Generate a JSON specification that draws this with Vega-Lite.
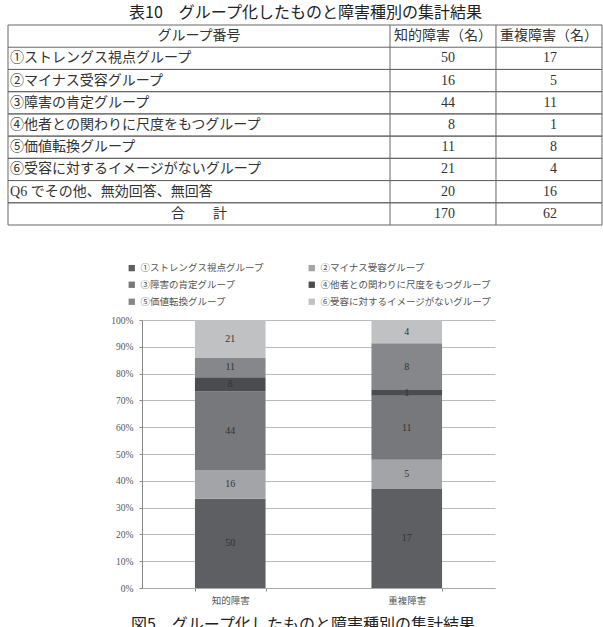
{
  "$schema": "https://vega.github.io/schema/vega-lite/v6.json",
  "padding": {"left": 7, "top": 4, "right": 2, "bottom": 0},
  "background": "white",
  "config": {
    "view": {"stroke": null},
    "font": "Liberation Serif, Noto Sans CJK JP"
  },
  "datasets": {
    "header": [{"no": 0, "c1": "グループ番号", "c2": "知的障害（名）", "c3": "重複障害（名）"}],
    "rows": [
      {"no": 1, "group": "①ストレングス視点グループ", "知的障害": 50, "重複障害": 17},
      {"no": 2, "group": "②マイナス受容グループ", "知的障害": 16, "重複障害": 5},
      {"no": 3, "group": "③障害の肯定グループ", "知的障害": 44, "重複障害": 11},
      {"no": 4, "group": "④他者との関わりに尺度をもつグループ", "知的障害": 8, "重複障害": 1},
      {"no": 5, "group": "⑤価値転換グループ", "知的障害": 11, "重複障害": 8},
      {"no": 6, "group": "⑥受容に対するイメージがないグループ", "知的障害": 21, "重複障害": 4},
      {"no": 7, "group": "Q6 でその他、無効回答、無回答", "知的障害": 20, "重複障害": 16},
      {"no": 8, "group": "合　　計", "知的障害": 170, "重複障害": 62}
    ],
    "chart": [
      {"type": "知的障害", "group": "①ストレングス視点グループ", "count": 50},
      {"type": "知的障害", "group": "②マイナス受容グループ", "count": 16},
      {"type": "知的障害", "group": "③障害の肯定グループ", "count": 44},
      {"type": "知的障害", "group": "④他者との関わりに尺度をもつグループ", "count": 8},
      {"type": "知的障害", "group": "⑤価値転換グループ", "count": 11},
      {"type": "知的障害", "group": "⑥受容に対するイメージがないグループ", "count": 21},
      {"type": "重複障害", "group": "①ストレングス視点グループ", "count": 17},
      {"type": "重複障害", "group": "②マイナス受容グループ", "count": 5},
      {"type": "重複障害", "group": "③障害の肯定グループ", "count": 11},
      {"type": "重複障害", "group": "④他者との関わりに尺度をもつグループ", "count": 1},
      {"type": "重複障害", "group": "⑤価値転換グループ", "count": 8},
      {"type": "重複障害", "group": "⑥受容に対するイメージがないグループ", "count": 4}
    ]
  },
  "resolve": {"legend": {"color": "independent"}, "scale": {"color": "independent"}},
  "vconcat": [
    {
      "title": {"text": "表10　グループ化したものと障害種別の集計結果", "fontSize": 16, "font": "Noto Sans CJK JP", "fontWeight": "normal", "color": "#222", "anchor": "middle", "offset": 4, "dx": -13},
      "width": 621, "height": 200,
      "layer": [
        {
          "encoding": {"y": {"field": "no", "type": "ordinal", "scale": {"type": "band", "domain": [0,1,2,3,4,5,6,7,8], "paddingInner": 0, "paddingOuter": 0}, "axis": null}},
          "layer": [
            {"data": {"name": "header"}, "mark": {"type": "text", "fontSize": 14, "color": "#333", "align": "center", "baseline": "middle", "font": "Noto Sans CJK JP"}, "encoding": {"x": {"datum": 0.3215, "type": "quantitative", "scale": {"domain": [0, 1.04545]}, "axis": null}, "text": {"field": "c1"}}},
            {"data": {"name": "header"}, "mark": {"type": "text", "fontSize": 14, "color": "#333", "align": "center", "baseline": "middle", "font": "Noto Sans CJK JP"}, "encoding": {"x": {"datum": 0.7323, "type": "quantitative", "scale": {"domain": [0, 1.04545]}, "axis": null}, "text": {"field": "c2"}}},
            {"data": {"name": "header"}, "mark": {"type": "text", "fontSize": 14, "color": "#333", "align": "center", "baseline": "middle", "font": "Noto Sans CJK JP"}, "encoding": {"x": {"datum": 0.9108, "type": "quantitative", "scale": {"domain": [0, 1.04545]}, "axis": null}, "text": {"field": "c3"}}},
            {"data": {"name": "rows"}, "transform": [{"filter": "datum.no < 8"}], "mark": {"type": "text", "fontSize": 14, "color": "#333", "align": "left", "baseline": "middle"}, "encoding": {"x": {"datum": 0.0034, "type": "quantitative", "scale": {"domain": [0, 1.04545]}, "axis": null}, "text": {"field": "group"}}},
            {"data": {"name": "rows"}, "transform": [{"filter": "datum.no == 8"}], "mark": {"type": "text", "fontSize": 14, "color": "#333", "align": "center", "baseline": "middle", "font": "Noto Sans CJK JP"}, "encoding": {"x": {"datum": 0.3215, "type": "quantitative", "scale": {"domain": [0, 1.04545]}, "axis": null}, "text": {"field": "group"}}},
            {"data": {"name": "rows"}, "mark": {"type": "text", "fontSize": 14, "color": "#333", "align": "right", "baseline": "middle"}, "encoding": {"x": {"datum": 0.7525, "type": "quantitative", "scale": {"domain": [0, 1.04545]}, "axis": null}, "text": {"field": "知的障害"}}},
            {"data": {"name": "rows"}, "mark": {"type": "text", "fontSize": 14, "color": "#333", "align": "right", "baseline": "middle"}, "encoding": {"x": {"datum": 0.9242, "type": "quantitative", "scale": {"domain": [0, 1.04545]}, "axis": null}, "text": {"field": "重複障害"}}},
            {"data": {"name": "header"}, "mark": {"type": "rule", "color": "#666", "strokeWidth": 1}, "encoding": {"y": {"field": "no", "type": "ordinal", "bandPosition": 0, "axis": null}, "x": {"datum": 0, "type": "quantitative", "scale": {"domain": [0, 1.04545]}, "axis": null}, "x2": {"datum": 1}}},
            {"data": {"name": "rows"}, "mark": {"type": "rule", "color": "#666", "strokeWidth": 1}, "encoding": {"y": {"field": "no", "type": "ordinal", "bandPosition": 0, "axis": null}, "x": {"datum": 0, "type": "quantitative", "scale": {"domain": [0, 1.04545]}, "axis": null}, "x2": {"datum": 1}}},
            {"data": {"name": "rows"}, "mark": {"type": "rule", "color": "#666", "strokeWidth": 1}, "encoding": {"y": {"field": "no", "type": "ordinal", "bandPosition": 1, "axis": null}, "x": {"datum": 0, "type": "quantitative", "scale": {"domain": [0, 1.04545]}, "axis": null}, "x2": {"datum": 1}}}
          ]
        },
        {"data": {"name": "header"}, "mark": {"type": "rule", "color": "#666", "strokeWidth": 1}, "encoding": {"x": {"datum": 0, "type": "quantitative", "scale": {"domain": [0, 1.04545]}, "axis": null}}},
        {"data": {"name": "header"}, "mark": {"type": "rule", "color": "#666", "strokeWidth": 1}, "encoding": {"x": {"datum": 0.6431, "type": "quantitative", "scale": {"domain": [0, 1.04545]}, "axis": null}}},
        {"data": {"name": "header"}, "mark": {"type": "rule", "color": "#666", "strokeWidth": 1}, "encoding": {"x": {"datum": 0.8215, "type": "quantitative", "scale": {"domain": [0, 1.04545]}, "axis": null}}},
        {"data": {"name": "header"}, "mark": {"type": "rule", "color": "#666", "strokeWidth": 1}, "encoding": {"x": {"datum": 1, "type": "quantitative", "scale": {"domain": [0, 1.04545]}, "axis": null}}}
      ]
    },
    {
      "width": 353, "height": 268,
      "data": {"name": "chart"},
      "title": {"text": "図5　グループ化したものと障害種別の集計結果", "orient": "bottom", "fontSize": 16, "font": "Noto Sans CJK JP", "fontWeight": "normal", "color": "#222", "anchor": "middle", "frame": "bounds", "offset": 12},
      "encoding": {
        "x": {"field": "type", "type": "nominal", "sort": ["知的障害", "重複障害"], "scale": {"paddingInner": 0.6, "paddingOuter": 0.3},
          "axis": {"title": null, "labelAngle": 0, "tickBand": "extent", "tickSize": 3, "tickColor": "#888", "domainColor": "#aaa", "labelFontSize": 9.5, "labelColor": "#555", "labelPadding": 4, "labelFont": "Noto Sans CJK JP"}}
      },
      "layer": [
        {
          "mark": {"type": "bar"},
          "encoding": {
            "y": {"field": "count", "type": "quantitative", "stack": "normalize",
              "axis": {"title": null, "format": "%", "values": [0, 0.1, 0.2, 0.3, 0.4, 0.5, 0.6, 0.7, 0.8, 0.9, 1], "tickSize": 3, "labelPadding": 6, "labelFontSize": 9.5, "labelColor": "#555", "gridColor": "#bbb", "domainColor": "#888", "tickColor": "#888"}},
            "color": {"field": "group", "type": "nominal",
              "scale": {"domain": ["①ストレングス視点グループ", "②マイナス受容グループ", "③障害の肯定グループ", "④他者との関わりに尺度をもつグループ", "⑤価値転換グループ", "⑥受容に対するイメージがないグループ"],
                "range": ["#5e5f63", "#a3a4a7", "#77787c", "#4b4c50", "#86878a", "#c0c1c3"]},
              "legend": {"title": null, "orient": "none", "direction": "horizontal", "legendX": -15, "legendY": -57, "columns": 2, "symbolType": "square", "symbolSize": 40, "labelFontSize": 9.5, "labelColor": "#555", "labelLimit": 400, "columnPadding": 42, "rowPadding": 6, "labelFont": "Noto Sans CJK JP", "symbolStrokeWidth": 0}},
            "order": {"field": "group", "sort": "ascending"}
          }
        },
        {
          "transform": [
            {"stack": "count", "groupby": ["type"], "sort": [{"field": "group", "order": "ascending"}], "offset": "normalize", "as": ["y0", "y1"]},
            {"fold": ["y0", "y1"], "as": ["edge", "pos"]},
            {"aggregate": [{"op": "mean", "field": "pos", "as": "mid"}], "groupby": ["type", "group", "count"]}
          ],
          "mark": {"type": "text", "fontSize": 10, "color": "#333", "baseline": "middle"},
          "encoding": {
            "y": {"field": "mid", "type": "quantitative",
              "axis": {"title": null, "format": "%", "values": [0, 0.1, 0.2, 0.3, 0.4, 0.5, 0.6, 0.7, 0.8, 0.9, 1], "tickSize": 3, "labelPadding": 6, "labelFontSize": 9.5, "labelColor": "#555", "gridColor": "#bbb", "domainColor": "#888", "tickColor": "#888"}},
            "text": {"field": "count"}
          }
        }
      ]
    }
  ],
  "spacing": 37,
  "center": true
}
